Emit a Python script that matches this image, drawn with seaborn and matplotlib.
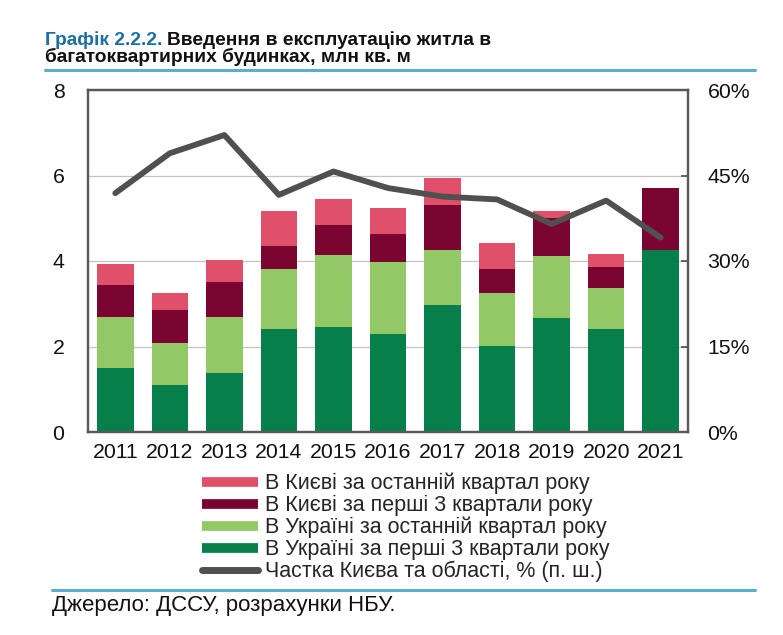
import numpy as np
import matplotlib
matplotlib.use("Agg")
import matplotlib.pyplot as plt
import seaborn as sns
from matplotlib.lines import Line2D
from matplotlib.ticker import FixedLocator

# data (mln sq. m, share in %)
years = ['2011', '2012', '2013', '2014', '2015', '2016', '2017', '2018', '2019', '2020', '2021']
ua_first3 = [1.50, 1.11, 1.37, 2.41, 2.45, 2.29, 2.97, 2.01, 2.66, 2.41, 4.26]
ua_last_q = [1.18, 0.98, 1.31, 1.41, 1.70, 1.68, 1.29, 1.23, 1.46, 0.95, 0.00]
kyiv_first3 = [0.76, 0.76, 0.83, 0.52, 0.70, 0.66, 1.04, 0.58, 0.89, 0.50, 1.45]
kyiv_last_q = [0.50, 0.41, 0.51, 0.82, 0.59, 0.62, 0.63, 0.61, 0.16, 0.31, 0.00]
kyiv_share = [41.9, 48.9, 52.1, 41.6, 45.7, 42.8, 41.3, 40.8, 36.5, 40.6, 34.1]

labels = ['В Києві за останній квартал року',
          'В Києві за перші 3 квартали року',
          'В Україні за останній квартал року',
          'В Україні за перші 3 квартали року',
          'Частка Києва та області, % (п. ш.)']

c_pink = '#E0506A'
c_dred = '#7A0530'
c_lgreen = '#93C867'
c_dgreen = '#077F4B'
c_line = '#505050'
c_spine = '#595959'
c_blue_txt = '#1C6FA3'
c_blue_rule = '#5AAFCC'

sns.set_style('white')
plt.rcParams['font.family'] = ['Liberation Sans', 'DejaVu Sans']

fig = plt.figure(figsize=(7.83, 6.35), dpi=100)
ax = fig.add_axes([88 / 783, 1 - 432 / 635, 600 / 783, 342 / 635])

layers = [(ua_first3, c_dgreen), (ua_last_q, c_lgreen), (kyiv_first3, c_dred), (kyiv_last_q, c_pink)]
bottom = np.zeros(len(years))
for vals, col in layers:
    sns.barplot(x=years, y=vals, bottom=bottom, color=col, width=0.67,
                saturation=1, linewidth=0, ax=ax, zorder=2)
    bottom = bottom + np.array(vals)

ax.set_xlim(-0.5, 10.5)
ax.set_ylim(0, 8)
ax.set_yticks([0, 2, 4, 6, 8])
ax.yaxis.grid(True, color='#C4C4C4', lw=0.9, zorder=0)
ax.set_axisbelow(True)
ax.tick_params(axis='x', which='major', length=0, labelsize=15.3, pad=8, colors='#111111')
ax.xaxis.set_minor_locator(FixedLocator(np.arange(0.5, 10, 1)))
ax.tick_params(axis='x', which='minor', direction='in', length=5, width=1.3, color=c_spine)
ax.tick_params(axis='y', direction='in', length=0, labelsize=15.3, pad=17, colors='#111111')
for s in ax.spines.values():
    s.set_visible(True)
    s.set_color(c_spine)
    s.set_linewidth(1.6)

ax2 = ax.twinx()
sns.lineplot(x=np.arange(len(years)), y=kyiv_share, color=c_line, lw=4.2, ax=ax2)
ax2.set_ylim(0, 60)
ax2.set_yticks([0, 15, 30, 45, 60])
ax2.set_yticklabels([f'{v}%' for v in [0, 15, 30, 45, 60]])
ax2.tick_params(axis='y', direction='in', length=5, width=1.3, color=c_spine,
                labelsize=15.3, pad=14, labelcolor='#111111')
for s in ax2.spines.values():
    s.set_visible(True)
    s.set_color(c_spine)
    s.set_linewidth(1.6)
ax2.set_xlim(-0.5, 10.5)

# legend
handles = [Line2D([], [], color=c_pink, lw=7, solid_capstyle='butt'),
           Line2D([], [], color=c_dred, lw=7, solid_capstyle='butt'),
           Line2D([], [], color=c_lgreen, lw=7, solid_capstyle='butt'),
           Line2D([], [], color=c_dgreen, lw=7, solid_capstyle='butt'),
           Line2D([], [], color=c_line, lw=5, solid_capstyle='round')]
fig.legend(handles, labels, loc='upper left', bbox_to_anchor=(202 / 783, 1 - 473 / 635),
           frameon=False, fontsize=15.5, handlelength=2.6, handletextpad=0.32,
           labelspacing=0.03, borderpad=0, borderaxespad=0)

# title
fig.canvas.draw()
r = fig.canvas.get_renderer()
t1 = fig.text(45 / 783, 1 - 45 / 635, 'Графік 2.2.2.', color=c_blue_txt, fontsize=13.8,
              fontweight='bold', va='baseline', ha='left')
ext = t1.get_window_extent(r)
fig.text((ext.x1 + 5) / 783, 1 - 45 / 635, 'Введення в експлуатацію житла в', color='#111111',
         fontsize=13.8, fontweight='bold', va='baseline', ha='left')
fig.text(45 / 783, 1 - 62 / 635, 'багатоквартирних будинках, млн кв. м', color='#111111',
         fontsize=13.8, fontweight='bold', va='baseline', ha='left')

# rules and source
fig.add_artist(Line2D([45 / 783, 755 / 783], [1 - 70 / 635, 1 - 70 / 635], color=c_blue_rule, lw=2.2))
fig.add_artist(Line2D([52 / 783, 755 / 783], [1 - 590 / 635, 1 - 590 / 635], color=c_blue_rule, lw=2.2))
fig.text(52 / 783, 1 - 611 / 635, 'Джерело: ДССУ, розрахунки НБУ.', color='#111111',
         fontsize=16, va='baseline', ha='left')

fig.savefig('out.png', dpi=100)
